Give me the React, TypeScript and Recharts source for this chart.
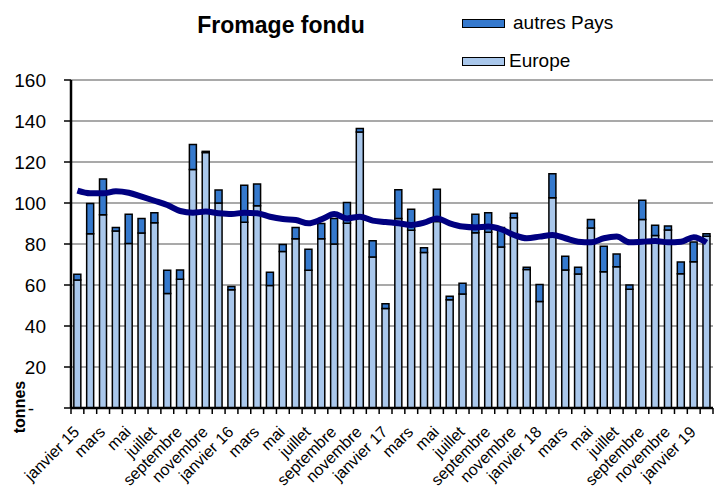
import { Bar, CartesianGrid, ComposedChart, Line, XAxis, YAxis } from "recharts";

// catégories : janvier 15 -> février 19
const monthNames = [
  "janvier", "février", "mars", "avril", "mai", "juin",
  "juillet", "août", "septembre", "octobre", "novembre", "décembre",
];
const years = ["15", "16", "17", "18", "19"];
const months = years
  .flatMap((y) => monthNames.map((m, i) => (i === 0 ? `${m} ${y}` : m)))
  .slice(0, 50);

// tonnes
const europe = [
  62.4, 85.0, 94.3, 86.3, 80.3, 85.4, 90.4, 55.8, 62.8, 116.3,
  124.6, 100.0, 57.7, 90.6, 98.7, 59.8, 76.4, 82.6, 67.2, 82.6,
  80.0, 90.1, 134.6, 73.7, 48.5, 92.4, 86.7, 75.9, 91.0, 52.8,
  55.6, 85.5, 85.7, 78.5, 92.8, 67.6, 52.0, 102.6, 67.3, 65.4,
  87.8, 66.5, 68.9, 57.9, 92.0, 84.1, 86.8, 65.5, 71.4, 83.8,
];
const autresPays = [
  2.8, 14.7, 17.4, 1.8, 14.2, 7.0, 4.9, 11.4, 4.5, 12.2,
  0.6, 6.3, 1.6, 18.0, 10.6, 6.4, 3.4, 5.5, 10.2, 7.4,
  12.5, 10.2, 1.8, 7.9, 2.4, 14.1, 10.2, 2.3, 15.7, 1.7,
  5.2, 9.0, 9.6, 9.5, 2.2, 1.0, 8.2, 11.7, 6.7, 3.2,
  4.2, 12.4, 6.2, 2.1, 9.3, 5.0, 2.0, 5.7, 9.6, 1.2,
];
const tendance = [
  106.0, 104.7, 104.7, 105.7, 105.0, 103.1, 101.1, 99.0, 96.1, 95.3,
  95.8, 95.0, 94.6, 95.3, 95.0, 93.3, 92.2, 91.7, 90.1, 92.0,
  94.6, 92.5, 93.3, 91.4, 90.7, 90.1, 89.3, 90.4, 92.5, 90.1,
  88.5, 88.1, 88.5, 87.2, 84.4, 82.8, 83.6, 84.4, 82.8, 81.1,
  80.8, 82.8, 83.6, 80.8, 81.1, 81.5, 80.8, 81.1, 83.3, 80.7,
];
const yTicks = [0, 20, 40, 60, 80, 100, 120, 140, 160];

const data = months.map((month, i) => ({
  month,
  europe: europe[i],
  autres: autresPays[i],
  tendance: tendance[i],
}));

const colors = {
  europe: "#A9C7EB",
  autres: "#3579CD",
  line: "#000080",
  grid: "#8c8c8c",
};

const font = "'Liberation Sans', Arial, sans-serif";

function MonthTick({ x, y, width, payload, index }: any) {
  const half = (width || 642) / months.length / 2;
  const ax = x + 3;
  const ay = y + 25;
  return (
    <g>
      {index === 0 && (
        <line x1={x - half} x2={x - half} y1={y} y2={y + 6} stroke="#000" strokeWidth={1.5} />
      )}
      <line x1={x + half} x2={x + half} y1={y} y2={y + 6} stroke="#000" strokeWidth={1.5} />
      {index % 2 === 0 && (
        <text
          x={ax}
          y={ay}
          textAnchor="end"
          transform={`rotate(-45, ${ax}, ${ay})`}
          fontSize={16}
          fontFamily={font}
          fill="#000"
        >
          {payload.value}
        </text>
      )}
    </g>
  );
}

function ValueTick({ x, y, payload }: any) {
  const zero = payload.value === 0;
  return (
    <text
      x={zero ? x - 12 : x}
      y={y}
      dy={7}
      textAnchor="end"
      fontSize={19}
      fontFamily={font}
      fill="#000"
    >
      {zero ? "-" : payload.value}
    </text>
  );
}

const legendItems = [
  { label: "autres Pays", color: colors.autres, top: 12, gap: 8 },
  { label: "Europe", color: colors.europe, top: 50, gap: 4 },
];

export default function App() {
  return (
    <div style={{ position: "absolute", left: 0, top: 0, width: 715, height: 488, background: "#fff", fontFamily: font }}>
      <ComposedChart
        width={715}
        height={488}
        data={data}
        margin={{ top: 80, right: 2, bottom: 0, left: 0 }}
        barCategoryGap="22%"
      >
        <CartesianGrid vertical={false} stroke={colors.grid} strokeWidth={1.5} />
        <XAxis
          dataKey="month"
          height={80}
          interval={0}
          tickSize={0}
          tickMargin={0}
          tickLine={false}
          axisLine={{ stroke: "#000", strokeWidth: 2.5 }}
          tick={<MonthTick />}
        />
        <XAxis
          xAxisId="top"
          dataKey="month"
          orientation="top"
          height={0}
          tick={false}
          tickLine={false}
          axisLine={{ stroke: "#000", strokeWidth: 2.5 }}
        />
        <YAxis
          width={71}
          domain={[0, 160]}
          ticks={yTicks}
          interval={0}
          tickSize={7}
          tickMargin={18}
          tickLine={{ stroke: "#000", strokeWidth: 1.5 }}
          axisLine={{ stroke: "#000", strokeWidth: 2.5 }}
          tick={<ValueTick />}
        />
        <YAxis
          yAxisId="right"
          orientation="right"
          width={0}
          domain={[0, 160]}
          tick={false}
          tickLine={false}
          axisLine={{ stroke: "#000", strokeWidth: 2.5 }}
        />
        <Bar dataKey="europe" stackId="a" fill={colors.europe} stroke="#000" strokeWidth={1.5} isAnimationActive={false} />
        <Bar dataKey="autres" stackId="a" fill={colors.autres} stroke="#000" strokeWidth={1.5} isAnimationActive={false} />
        <Line
          dataKey="tendance"
          type="monotone"
          stroke={colors.line}
          strokeWidth={6}
          dot={false}
          activeDot={false}
          isAnimationActive={false}
        />
      </ComposedChart>

      <div style={{ position: "absolute", left: 281, top: 12, transform: "translateX(-50%)", fontSize: 23, fontWeight: 700, whiteSpace: "nowrap" }}>
        Fromage fondu
      </div>

      {legendItems.map((item) => (
        <div key={item.label} style={{ position: "absolute", left: 462, top: item.top, display: "flex", alignItems: "center", fontSize: 19, lineHeight: "22px" }}>
          <span style={{ display: "inline-block", width: 41, height: 7, background: item.color, border: "1.5px solid #000", marginRight: item.gap }} />
          <span>{item.label}</span>
        </div>
      ))}

      <div style={{ position: "absolute", left: 20, top: 407, transform: "translate(-50%, -50%) rotate(-90deg)", fontSize: 16, fontWeight: 700 }}>
        tonnes
      </div>
    </div>
  );
}
